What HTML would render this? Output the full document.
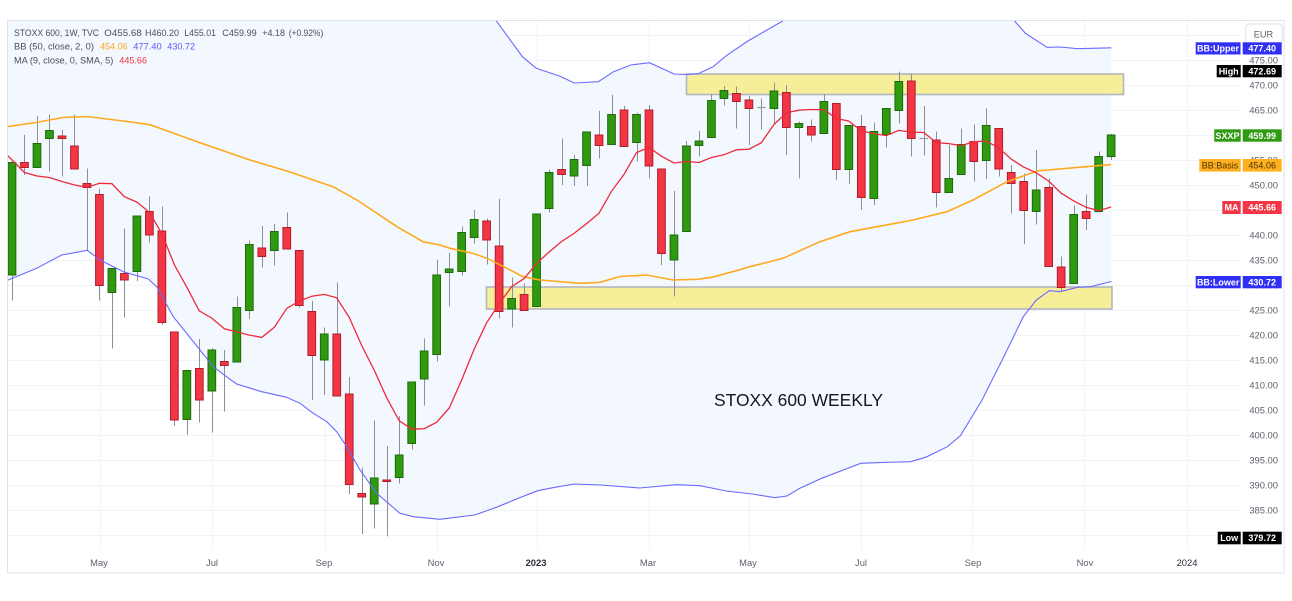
<!DOCTYPE html>
<html><head><meta charset="utf-8"><style>
html,body{margin:0;padding:0;background:#fff;}
svg{display:block;font-family:"Liberation Sans",Arial,sans-serif;}
</style></head><body>
<svg id="s" width="1292" height="601" viewBox="0 0 1292 601" xmlns="http://www.w3.org/2000/svg">
<defs><clipPath id="pane"><rect x="8" y="21" width="1234" height="529"/></clipPath></defs>
<rect x="0" y="0" width="1292" height="601" fill="#fff"/>
<rect x="7.5" y="20.5" width="1276.5" height="552.5" fill="#fff" stroke="#e0e3eb" stroke-width="1"/>
<g id="grid" stroke="#f0f3fa" stroke-width="1"></g>
<g clip-path="url(#pane)">
  <polygon id="bbfill" fill="#f2f8fd"/>
  <rect x="686.5" y="74" width="437" height="20.5" fill="#f6ee98" stroke="#b3b6be" stroke-width="1.6"/>
  <rect x="486.5" y="287" width="625.5" height="22" fill="#f6ee98" stroke="#b3b6be" stroke-width="1.6"/>
  <g id="candles"></g>
  <polyline id="upper" fill="none" stroke="#6a6aff" stroke-width="1.1"/>
  <polyline id="lower" fill="none" stroke="#6a6aff" stroke-width="1.1"/>
  <polyline id="basis" fill="none" stroke="#ffa91f" stroke-width="1.6"/>
  <polyline id="ma" fill="none" stroke="#ee2a3c" stroke-width="1.3"/>
</g>
<text x="714" y="406" font-size="17.5" fill="#131722" textLength="169" lengthAdjust="spacingAndGlyphs">STOXX 600 WEEKLY</text>

<g font-size="9" fill="#4a4e59">
<text x="14" y="35.8" textLength="85" lengthAdjust="spacingAndGlyphs">STOXX 600, 1W, TVC</text>
<text x="104.3" y="35.8" textLength="37.4" lengthAdjust="spacingAndGlyphs">O455.68</text>
<text x="145" y="35.8" textLength="34" lengthAdjust="spacingAndGlyphs">H460.20</text>
<text x="184.3" y="35.8" textLength="31.7" lengthAdjust="spacingAndGlyphs">L455.01</text>
<text x="222.3" y="35.8" textLength="34.4" lengthAdjust="spacingAndGlyphs">C459.99</text>
<text x="262.3" y="35.8" textLength="22.7" lengthAdjust="spacingAndGlyphs">+4.18</text>
<text x="288.7" y="35.8" textLength="34.6" lengthAdjust="spacingAndGlyphs">(+0.92%)</text>
<text x="14" y="49.4" textLength="80" lengthAdjust="spacingAndGlyphs">BB (50, close, 2, 0)</text>
<text x="100" y="49.4" textLength="27.7" lengthAdjust="spacingAndGlyphs" fill="#ffa91f">454.06</text>
<text x="133.3" y="49.4" textLength="28.4" lengthAdjust="spacingAndGlyphs" fill="#5b5bff">477.40</text>
<text x="167.3" y="49.4" textLength="27.7" lengthAdjust="spacingAndGlyphs" fill="#5b5bff">430.72</text>
<text x="14" y="63.3" textLength="99.3" lengthAdjust="spacingAndGlyphs">MA (9, close, 0, SMA, 5)</text>
<text x="119.3" y="63.3" textLength="27.7" lengthAdjust="spacingAndGlyphs" fill="#f23645">445.66</text>
</g>

<g font-size="9.4" fill="#5d606b" text-anchor="end">
<text x="1278" y="63.3">475.00</text>
<text x="1278" y="88.3">470.00</text>
<text x="1278" y="113.3">465.00</text>
<text x="1278" y="138.3">460.00</text>
<text x="1278" y="163.3">455.00</text>
<text x="1278" y="188.3">450.00</text>
<text x="1278" y="213.3">445.00</text>
<text x="1278" y="238.3">440.00</text>
<text x="1278" y="263.3">435.00</text>
<text x="1278" y="288.3">430.00</text>
<text x="1278" y="313.3">425.00</text>
<text x="1278" y="338.3">420.00</text>
<text x="1278" y="363.3">415.00</text>
<text x="1278" y="388.3">410.00</text>
<text x="1278" y="413.3">405.00</text>
<text x="1278" y="438.3">400.00</text>
<text x="1278" y="463.3">395.00</text>
<text x="1278" y="488.3">390.00</text>
<text x="1278" y="513.3">385.00</text>
<text x="1278" y="538.3">380.00</text>
</g>

<rect x="1245.7" y="24" width="36.6" height="20" rx="3" fill="#fff" stroke="#e0e3eb"/>
<text x="1263.5" y="37.3" font-size="9.2" fill="#5d606b" text-anchor="middle">EUR</text>

<g font-size="9" text-anchor="middle" font-weight="bold">
<rect x="1195.7" y="42.3" width="44.8" height="12.2" fill="#3030f5"/>
<rect x="1242.7" y="42.3" width="39" height="12.2" fill="#3030f5"/>
<text x="1218" y="51.6" fill="#fff">BB:Upper</text>
<text x="1262.2" y="51.6" fill="#fff">477.40</text>

<rect x="1216.7" y="65" width="24" height="12.3" fill="#000"/>
<rect x="1242.7" y="65" width="39" height="12.3" fill="#000"/>
<text x="1228.7" y="74.4" fill="#fff">High</text>
<text x="1262.2" y="74.4" fill="#fff">472.69</text>

<rect x="1214.3" y="129.3" width="26.4" height="12.4" fill="#2f9a12"/>
<rect x="1242.7" y="129.3" width="39" height="12.4" fill="#2f9a12"/>
<text x="1227.5" y="138.8" fill="#fff">SXXP</text>
<text x="1262.2" y="138.8" fill="#fff">459.99</text>

<rect x="1199.3" y="159" width="41.4" height="12.6" fill="#ffb020"/>
<rect x="1242.7" y="159" width="39" height="12.6" fill="#ffb020"/>
<text x="1220" y="168.5" fill="#4a3400" font-weight="normal">BB:Basis</text>
<text x="1262.2" y="168.5" fill="#4a3400" font-weight="normal">454.06</text>

<rect x="1222.3" y="201" width="18.4" height="13" fill="#f23645"/>
<rect x="1242.7" y="201" width="39" height="13" fill="#f23645"/>
<text x="1231.5" y="210.7" fill="#fff">MA</text>
<text x="1262.2" y="210.7" fill="#fff">445.66</text>

<rect x="1195.7" y="276" width="45" height="12.3" fill="#3030f5"/>
<rect x="1242.7" y="276" width="39" height="12.3" fill="#3030f5"/>
<text x="1218.2" y="285.4" fill="#fff">BB:Lower</text>
<text x="1262.2" y="285.4" fill="#fff">430.72</text>

<rect x="1217.7" y="531.7" width="23" height="12.6" fill="#000"/>
<rect x="1242.7" y="531.7" width="39" height="12.6" fill="#000"/>
<text x="1229.2" y="541.2" fill="#fff">Low</text>
<text x="1262.2" y="541.2" fill="#fff">379.72</text>
</g>

<g font-size="9.4" fill="#5d606b" text-anchor="middle">
<text x="99" y="566">May</text>
<text x="212" y="566">Jul</text>
<text x="324" y="566">Sep</text>
<text x="436" y="566">Nov</text>
<text x="536" y="566" font-weight="bold" fill="#2a2e39">2023</text>
<text x="648" y="566">Mar</text>
<text x="748" y="566">May</text>
<text x="861" y="566">Jul</text>
<text x="973" y="566">Sep</text>
<text x="1085" y="566">Nov</text>
<text x="1187" y="566" fill="#2a2e39">2024</text>
</g>
</svg>
<script>
(function(){
var D=[[432,454.5,426.9,454.5],[454.5,460,452,453.5],[453.5,463.8,453.5,458.3],[459.3,464.1,452.7,460.9],[459.8,461,451.7,459.3],[457.8,464.1,453.2,453.2],[450.3,453.3,436.9,449.5],[448.1,449.3,426.9,429.9],[428.5,433.3,417.3,433.3],[432.3,441.3,423.5,431],
[432.7,443.8,430.8,443.8],[444.7,447.7,438.5,440],[440.8,445.7,422,422.5],[420.6,420.6,401.8,403],[403.1,412.9,400,412.9],[413.3,419.2,402.5,407],[408.8,417.4,400.5,417],[414.7,417,404.7,413.9],[414.6,427.7,414.6,425.5],[424.9,438.9,423.2,438.1],
[437.4,441.8,433.5,435.7],[436.9,442.2,433.9,440.7],[441.5,444.5,437.2,437.2],[436.9,436.9,425.5,425.9],[424.7,426.8,407,415.9],[415,421.5,408,420.2],[420.2,430.5,407.8,407.8],[408.2,411.6,388.2,390.1],[388.3,393.5,380.2,387.6],[386.2,402.9,381.3,391.4],
[391,397.8,379.72,390.8],[391.5,403.8,390.3,396],[398.3,410.6,397.1,410.6],[411.2,419.3,405.9,416.8],[416.1,435.1,414.7,432],[432.5,436.4,425.7,433.2],[432.7,441.7,431.9,440.5],[439.5,445,438.3,443.1],[442.8,443.3,434.1,439],[437.8,447.2,423.3,424.7],
[425.2,431.5,421.5,427.3],[428.1,430.3,424.9,424.9],[425.7,444.2,425.7,444.2],[445.3,453.1,444.5,452.5],[453.1,459.3,450,452.1],[451.8,456,449.8,455.1],[453.9,460.6,449.8,460.6],[460,464.8,455.3,457.9],[458.1,468,458.1,464.1],[465,465.8,457.7,457.7],
[458.5,464.5,454.7,464.1],[465,466,451.3,453.8],[453.2,453.2,434,436.3],[435,448.8,427.7,440],[440.7,458.8,440.7,457.8],[457.9,460.8,455.7,458.8],[459.5,468.1,459.5,466.9],[467.3,469.8,465.9,468.9],[468.3,469.7,461.3,466.7],[467,467.8,458,465.3],
[465.5,467.3,461.1,465.5],[465.3,470.5,462.3,468.8],[468.5,470,456,461.5],[461.5,462.7,451.3,462.3],[461.7,463.1,458.7,460],[460.3,468.2,460.3,466.7],[466.3,466.3,451,453.1],[453.1,461.9,450.2,461.9],[461.7,464,445,447.5],[447.3,462.5,446,460.7],
[460.1,465.3,457.5,465.3],[464.9,472.69,462.3,470.7],[470.8,472.2,455.7,459.3],[459.3,465.8,455.9,459.3],[459,460.7,445.5,448.5],[448.5,458,448.5,451.3],[452.1,461.3,452.1,458.1],[458.7,462.1,450.7,454.7],[454.9,465.3,451.2,461.9],[461.3,461.3,451.7,453.2],
[452.5,454,444.3,450.3],[450.7,452.3,438.2,444.9],[444.7,457,442.1,449],[449.5,451.3,433.7,433.7],[433.6,435.7,428.7,429.5],[430.3,445.9,430.3,444.1],[444.7,448.1,441,443.3],[444.7,456.7,444.7,455.7],[455.68,460.2,455.01,459.99]];
function y(p){return 110+(465-p)*5;}
function X(i){return 12+12.49*i;}
var g='';
for(var i=0;i<D.length;i++){
 var o=D[i][0],h=D[i][1],l=D[i][2],c=D[i][3],cx=X(i),wx=Math.round(cx)+0.5;
 g+='<line x1="'+wx+'" y1="'+y(h).toFixed(1)+'" x2="'+wx+'" y2="'+y(l).toFixed(1)+'" stroke="#8c8f98" stroke-width="1"/>';
 if(Math.abs(c-o)<0.05){
  g+='<line x1="'+(cx-4.3).toFixed(1)+'" y1="'+y(c).toFixed(1)+'" x2="'+(cx+4.3).toFixed(1)+'" y2="'+y(c).toFixed(1)+'" stroke="#9a9ca3" stroke-width="1.2"/>';
 } else {
  var up=c>o, t=y(Math.max(o,c)), b=y(Math.min(o,c)), hh=Math.max(b-t,1.5);
  g+='<rect x="'+(cx-3.85).toFixed(2)+'" y="'+t.toFixed(1)+'" width="7.7" height="'+hh.toFixed(1)+'" fill="'+(up?'#2f9a10':'#f23645')+'" stroke="'+(up?'#1f6a0c':'#b21d2b')+'" stroke-width="1"/>';
 }
}
document.getElementById('candles').innerHTML=g;
var ma=[[7,155],[12,160],[24.5,172.5],[37,176],[49.5,177.5],[62,181.5],[74.5,185],[87,187.3],[99.5,183.3]];
for(var i=8;i<D.length;i++){var s=0;for(var k=i-8;k<=i;k++)s+=D[k][3];ma.push([X(i),y(s/9)]);}
function P(a){return a.map(function(p){return p[0].toFixed(1)+','+p[1].toFixed(1);}).join(' ');}
document.getElementById('ma').setAttribute('points',P(ma));
var basis=[[7,126.7],[36,122.5],[63,117.5],[87,116.5],[127,121.5],[150,124.7],[173,133],[200,142.7],[250,160],[290,172],[333,186.7],[357,200],[397,226.7],[423,241.7],[440,245],[450,248.3],[473,253.3],[487,258.3],[507,268.3],[523,276.7],[540,280],[580,283.3],[600,282.3],[620,276.5],[647,275],[673,280],[697,279.3],[712,277.3],[739,270],[750,266.7],[783,258.3],[820,241.7],[850,231.7],[890,224.3],[913,220],[947,211.7],[973,200],[1007,181.7],[1037,171],[1067,168.3],[1111,164.6]];
var upper=[[7,-60],[480,-60],[490,5],[496.4,21],[522.4,56.7],[536.3,68.3],[559.3,76],[574.4,83],[598.3,81.7],[613.5,71.7],[630.8,65],[649.5,62.7],[674,74],[686,74.5],[698,73.7],[713.2,66.7],[726.2,55.7],[747.9,41],[765.2,31],[782.6,21],[795,10],[850,-30],[950,-30],[1005,5],[1014.6,21],[1025.4,33.3],[1047.1,47.3],[1060.1,47],[1077.5,48.7],[1111.3,47.8]];
var lower=[[7,280.5],[36.7,268.3],[61.7,255],[87.3,250.3],[100,260],[123.3,271.7],[148.3,279],[156.7,286.7],[173.3,316.7],[200,350],[213.3,366.7],[230,379.3],[236.7,384],[261.7,391.7],[286.7,397.3],[300,403.3],[313.3,413.3],[326.7,421.7],[336.7,431.7],[346.7,446.7],[360,470],[376.7,493.3],[400,513.3],[413.3,516.7],[440,519.3],[474.7,515],[496.4,507.3],[515.9,499.3],[537.6,490.7],[554.9,487.3],[574.4,484],[600.5,485],[639.5,488],[676.3,484.7],[700.2,485.7],[726.2,491],[752.2,494],[774.8,497.7],[786.9,496],[799.9,488.3],[821.6,478.3],[843.3,470],[860.6,463.3],[886.7,462.3],[910.5,461.7],[925.7,457.3],[947.4,446.7],[960.4,435.7],[982.1,400],[1003.8,356.7],[1023.3,316.7],[1036.3,300],[1049.3,290.7],[1060.1,291.7],[1077.5,287.3],[1090.5,286.7],[1111.3,281.5]];
document.getElementById('basis').setAttribute('points',P(basis));
document.getElementById('upper').setAttribute('points',P(upper));
document.getElementById('lower').setAttribute('points',P(lower));
document.getElementById('bbfill').setAttribute('points',P(upper.concat(lower.slice().reverse())));
var gr='';
for(var yy=35;yy<=535;yy+=25)gr+='<line x1="8" y1="'+(yy+0.5)+'" x2="1242" y2="'+(yy+0.5)+'"/>';
[100,212,325,437,537,649,749,861,972,1084,1187].forEach(function(x){gr+='<line x1="'+(x+0.5)+'" y1="21" x2="'+(x+0.5)+'" y2="550"/>';});
document.getElementById('grid').innerHTML=gr;
})();
</script>
</body></html>
